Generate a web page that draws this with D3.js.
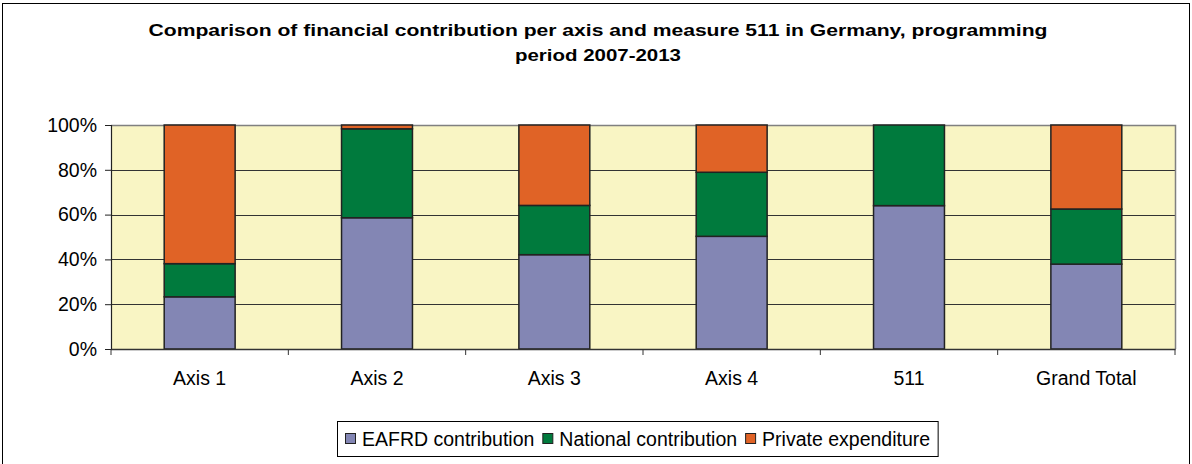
<!DOCTYPE html>
<html>
<head>
<meta charset="utf-8">
<script src="https://cdn.jsdelivr.net/npm/d3@7"></script>
<style>
  body { margin: 0; background: #fff; }
  text { font-family: "Liberation Sans", Arial, sans-serif; fill: #000; }
</style>
</head>
<body>
<div id="container"></div>
<script>
const categories = ['Axis 1', 'Axis 2', 'Axis 3', 'Axis 4', '511', 'Grand Total'];
const seriesNames = ['EAFRD contribution', 'National contribution', 'Private expenditure'];
const eafrd    = [23.3, 58.6, 42.1, 50.3, 64.0, 37.9];
const national = [14.8, 39.7, 22.0, 28.6, 36.0, 24.6];
const privateExp = [61.9, 1.7, 35.9, 21.1, 0.0, 37.5];
const yTicks = [0, 20, 40, 60, 80, 100];
const colors = ['#8386b4', '#007a3d', '#e06326'];

const width = 1192, height = 464;
const plotL = 111, plotR = 1175, plotT = 125, plotB = 349;
const fs = '19.5px';

const svg = d3.select('#container').append('svg').attr('width', width).attr('height', height);

// outer frame
svg.append('rect')
    .attr('x', 2.5).attr('y', 3.5).attr('width', 1187).attr('height', 470)
    .attr('fill', 'none').attr('stroke', '#000').attr('stroke-width', 1);

// title (the original's glyphs are wider, so stretch to the measured widths)
const title = svg.append('text').attr('text-anchor', 'middle').style('font-weight', 'bold').style('font-size', '16.5px');
title.append('tspan').attr('x', 598).attr('y', 36)
    .attr('textLength', 899).attr('lengthAdjust', 'spacingAndGlyphs')
    .text('Comparison of financial contribution per axis and measure 511 in Germany, programming');
title.append('tspan').attr('x', 598).attr('y', 61)
    .attr('textLength', 166).attr('lengthAdjust', 'spacingAndGlyphs')
    .text('period 2007-2013');

const x = d3.scaleBand().domain(categories).range([plotL, plotR]).paddingInner(0.6).paddingOuter(0.3);
const y = d3.scaleLinear().domain([0, 100]).range([plotB, plotT]);

// plot background
svg.append('rect')
    .attr('x', plotL).attr('y', plotT).attr('width', plotR - plotL).attr('height', plotB - plotT)
    .attr('fill', '#f9f5c4');

// gridlines
svg.append('g').selectAll('line')
    .data(yTicks.filter(d => d > 0 && d < 100))
    .enter().append('line')
    .attr('x1', plotL).attr('x2', plotR)
    .attr('y1', d => Math.round(y(d)) + 0.5).attr('y2', d => Math.round(y(d)) + 0.5)
    .attr('stroke', '#333').attr('stroke-width', 1.2);

// plot border top & right
svg.append('path')
    .attr('d', `M${plotL},${plotT + 0.5}H${plotR + 0.5}V${plotB}`)
    .attr('fill', 'none').attr('stroke', '#808080').attr('stroke-width', 1.5);

// stacked bars
const rows = categories.map((c, i) => ({ cat: c, s0: eafrd[i], s1: national[i], s2: privateExp[i] }));
const stack = d3.stack().keys(['s0', 's1', 's2'])(rows);

svg.append('g').selectAll('g')
    .data(stack)
    .enter().append('g')
    .attr('fill', (d, i) => colors[i])
    .selectAll('rect')
    .data(d => d.filter(p => p[1] - p[0] > 0))
    .enter().append('rect')
    .attr('x', d => x(d.data.cat))
    .attr('width', x.bandwidth())
    .attr('y', d => y(d[1]))
    .attr('height', d => y(d[0]) - y(d[1]))
    .attr('stroke', '#222').attr('stroke-width', 1.5);

// y axis
const yAxis = svg.append('g').attr('transform', `translate(${plotL},0)`)
    .call(d3.axisLeft(y).tickValues(yTicks).tickFormat(d => d + '%').tickSize(6).tickPadding(8));
yAxis.select('.domain').attr('stroke', '#222').attr('stroke-width', 1.2);
yAxis.selectAll('.tick line').attr('stroke', '#222');
yAxis.selectAll('text').style('font-size', fs).attr('font-family', null);

// x axis
const step = x.step();
const xAxis = svg.append('g').attr('transform', `translate(0,${plotB})`);
xAxis.append('line').attr('x1', plotL).attr('x2', plotR + 0.5).attr('y1', 0.5).attr('y2', 0.5)
    .attr('stroke', '#333').attr('stroke-width', 1.5);
xAxis.selectAll('.xt')
    .data(d3.range(categories.length + 1))
    .enter().append('line')
    .attr('x1', i => plotL + i * step).attr('x2', i => plotL + i * step)
    .attr('y1', 0).attr('y2', 6)
    .attr('stroke', '#333');
xAxis.selectAll('.xl')
    .data(categories)
    .enter().append('text')
    .attr('x', d => x(d) + x.bandwidth() / 2)
    .attr('y', 36)
    .attr('text-anchor', 'middle')
    .style('font-size', fs)
    .text(d => d);

// legend
const legend = svg.append('g');
const box = legend.append('rect')
    .attr('x', 337.5).attr('y', 421.5).attr('height', 35)
    .attr('fill', '#fff').attr('stroke', '#000').attr('stroke-width', 1);
let lx = 345;
seriesNames.forEach((name, i) => {
    legend.append('rect')
        .attr('x', lx + 0.5).attr('y', 433.5).attr('width', 10).attr('height', 10)
        .attr('fill', colors[i]).attr('stroke', '#222').attr('stroke-width', 1);
    const t = legend.append('text')
        .attr('x', lx + 17).attr('y', 446)
        .style('font-size', fs)
        .text(name);
    lx += 17 + t.node().getComputedTextLength() + 8;
});
box.attr('width', lx - 337.5);
</script>
</body>
</html>
